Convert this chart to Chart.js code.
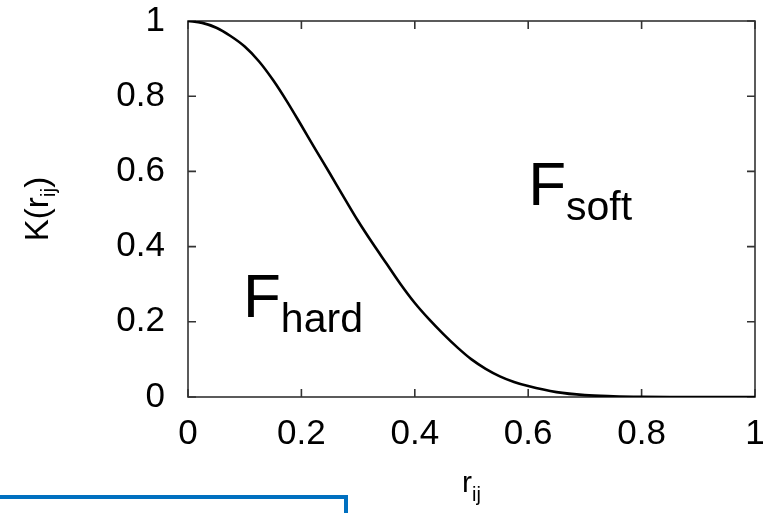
<!DOCTYPE html>
<html>
<head>
<meta charset="utf-8">
<script src="https://cdn.jsdelivr.net/npm/chart.js@4.4.1/dist/chart.umd.min.js"></script>
<style>
  html, body { margin: 0; padding: 0; background: #fff; overflow: hidden; }
  #wrap { position: relative; width: 782px; height: 513px; }
  #box {
    position: absolute; left: -10px; top: 495px; width: 358px; height: 40px;
    border: 4px solid #0070c0; box-sizing: border-box;
  }
</style>
</head>
<body>
<div id="wrap">
  <canvas id="kernel" width="782" height="513"></canvas>
  <div id="box"></div>
</div>
<script>
// kernel weight K(r_ij) against separation r_ij
const rValues = [0, 0.025, 0.05, 0.075, 0.10, 0.125, 0.15, 0.175, 0.20, 0.225, 0.25,
                 0.275, 0.30, 0.325, 0.35, 0.375, 0.40, 0.425, 0.45, 0.475, 0.50,
                 0.525, 0.55, 0.575, 0.60, 0.65, 0.70, 0.75, 0.80, 0.85, 0.90, 0.95, 1.00];
const kValues = [1.000, 0.995, 0.982, 0.960, 0.932, 0.893, 0.843, 0.785, 0.722, 0.658, 0.595,
                 0.531, 0.468, 0.410, 0.355, 0.300, 0.250, 0.207, 0.168, 0.132, 0.100,
                 0.075, 0.055, 0.040, 0.029, 0.013, 0.005, 0.002, 0.0005, 0, 0, 0, 0];
const xTicks = [0, 0.2, 0.4, 0.6, 0.8, 1];
const yTicks = [0, 0.2, 0.4, 0.6, 0.8, 1];

// region labels: [main, subscript, r, K]
const regionLabels = [
  ['F', 'hard', 0.097, 0.2125],
  ['F', 'soft', 0.600, 0.510]
];

const FONT = '"Liberation Sans", Arial, Helvetica, sans-serif';

// draws a run of pieces, each {t, px, dy}, starting at x (or centred on x)
function drawRun(ctx, parts, x, y, center) {
  let total = 0;
  parts.forEach(p => { ctx.font = p.px + 'px ' + FONT; p.w = ctx.measureText(p.t).width; total += p.w; });
  let cx = center ? x - total / 2 : x;
  ctx.textAlign = 'left';
  ctx.textBaseline = 'alphabetic';
  ctx.fillStyle = '#000';
  parts.forEach(p => {
    ctx.font = p.px + 'px ' + FONT;
    ctx.fillText(p.t, cx, y + (p.dy || 0));
    cx += p.w;
  });
}

// plain labels: 0, 0.2, ... 1
const fmt = v => String(+Number(v).toFixed(1));

// keep the plot box fixed, no extra room for overhanging labels
function noOverhang(s) {
  s.paddingTop = 0; s.paddingBottom = 0; s.paddingLeft = 0; s.paddingRight = 0;
}

const framePlugin = {
  id: 'frame',
  beforeDatasetsDraw(chart) {
    const { ctx, chartArea: a, scales } = chart;
    ctx.save();
    ctx.strokeStyle = '#333';
    ctx.lineWidth = 1.6;
    ctx.strokeRect(a.left, a.top, a.right - a.left, a.bottom - a.top);
    // inward tick marks on all four sides
    const len = 8;
    ctx.beginPath();
    xTicks.forEach(v => {
      const px = scales.x.getPixelForValue(v);
      ctx.moveTo(px, a.bottom); ctx.lineTo(px, a.bottom - len);
      ctx.moveTo(px, a.top); ctx.lineTo(px, a.top + len);
    });
    yTicks.forEach(v => {
      const py = scales.y.getPixelForValue(v);
      ctx.moveTo(a.left, py); ctx.lineTo(a.left + len, py);
      ctx.moveTo(a.right, py); ctx.lineTo(a.right - len, py);
    });
    ctx.stroke();
    ctx.restore();
  },
  afterDatasetsDraw(chart) {
    const { ctx, chartArea: a, scales } = chart;
    ctx.save();
    // axis titles with subscripts
    drawRun(ctx, [{ t: 'r', px: 30 }, { t: 'ij', px: 20, dy: 9 }], (a.left + a.right) / 2, 492, true);
    ctx.save();
    ctx.translate(48, (a.top + a.bottom) / 2);
    ctx.rotate(-Math.PI / 2);
    drawRun(ctx, [{ t: 'K(r', px: 33 }, { t: 'ij', px: 21, dy: 7 }, { t: ')', px: 33 }], 0, 0, true);
    ctx.restore();
    // region labels
    regionLabels.forEach(([m, s, r, k]) => {
      drawRun(ctx, [{ t: m, px: 62 }, { t: s, px: 41, dy: 15 }],
        scales.x.getPixelForValue(r), scales.y.getPixelForValue(k), false);
    });
    ctx.restore();
  }
};

new Chart(document.getElementById('kernel'), {
  type: 'line',
  data: {
    datasets: [{
      data: rValues.map((r, i) => ({ x: r, y: kValues[i] })),
      borderColor: '#000',
      borderWidth: 2.6,
      pointRadius: 0,
      fill: false,
      cubicInterpolationMode: 'monotone'
    }]
  },
  options: {
    responsive: false,
    animation: false,
    devicePixelRatio: 1,
    layout: { padding: { left: 0, right: 27, top: 21, bottom: 0 } },
    plugins: { legend: { display: false }, tooltip: { enabled: false } },
    scales: {
      x: {
        type: 'linear', min: 0, max: 1,
        afterFit: s => { s.height = 116; noOverhang(s); },
        afterBuildTicks: s => { s.ticks = xTicks.map(v => ({ value: v })); },
        grid: { display: false, drawTicks: false }, border: { display: false },
        ticks: { color: '#000', padding: 16, maxRotation: 0, callback: fmt,
                 font: { family: FONT, size: 35 } }
      },
      y: {
        min: 0, max: 1,
        afterFit: s => { s.width = 188; noOverhang(s); },
        afterBuildTicks: s => { s.ticks = yTicks.map(v => ({ value: v })); },
        grid: { display: false, drawTicks: false }, border: { display: false },
        ticks: { color: '#000', padding: 23, callback: fmt, font: { family: FONT, size: 35 } }
      }
    }
  },
  plugins: [framePlugin]
});
</script>
</body>
</html>
